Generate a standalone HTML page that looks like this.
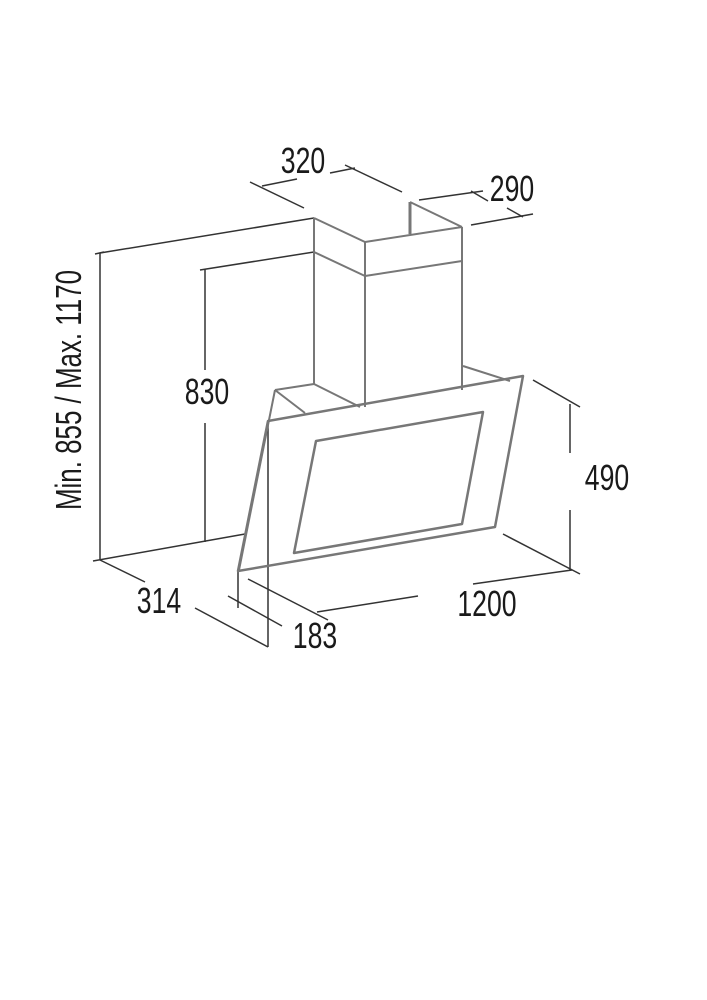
<!DOCTYPE html>
<html><head><style>
html,body{margin:0;padding:0;background:#fff;}
svg{display:block;}
text{font-family:"Liberation Sans",sans-serif;fill:#1a1a1a;}
</style></head><body>
<svg width="707" height="1000" viewBox="0 0 707 1000" xmlns="http://www.w3.org/2000/svg">
<g stroke="#333" stroke-width="1.5" fill="none">
<line x1="100" y1="253" x2="314" y2="218"/>
<line x1="95" y1="254" x2="104" y2="252"/>
<line x1="100" y1="253" x2="100" y2="560"/>
<line x1="200" y1="270" x2="314" y2="252"/>
<line x1="205" y1="269" x2="205" y2="370"/>
<line x1="205" y1="423" x2="205" y2="542"/>
<line x1="93" y1="561" x2="245" y2="534"/>
<line x1="100" y1="560" x2="145" y2="582"/>
<line x1="195" y1="608" x2="268" y2="647"/>
<line x1="228" y1="596" x2="282" y2="626"/>
<line x1="248" y1="579" x2="328" y2="620"/>
<line x1="238" y1="571" x2="238" y2="608"/>
<line x1="268" y1="421" x2="268" y2="647"/>
<line x1="317" y1="612" x2="418" y2="596"/>
<line x1="473" y1="584" x2="572" y2="570"/>
<line x1="503" y1="534" x2="580" y2="574"/>
<line x1="533" y1="380" x2="580" y2="407"/>
<line x1="570" y1="404" x2="570" y2="453"/>
<line x1="570" y1="510" x2="570" y2="570"/>
<line x1="250" y1="182" x2="304" y2="208"/>
<line x1="262" y1="186" x2="297" y2="179"/>
<line x1="330" y1="173" x2="355" y2="168"/>
<line x1="345" y1="165" x2="402" y2="192"/>
<line x1="419" y1="200" x2="483" y2="191"/>
<line x1="471" y1="191" x2="488" y2="201"/>
<line x1="471" y1="225" x2="533" y2="214"/>
<line x1="507" y1="208" x2="523" y2="217"/>
</g>
<g stroke="#777" stroke-width="2" fill="none" stroke-linejoin="round">
<line x1="314" y1="218" x2="365" y2="242"/>
<line x1="365" y1="242" x2="462" y2="227"/>
<line x1="410" y1="202" x2="462" y2="227"/>
<line x1="410" y1="202" x2="410" y2="234" stroke-width="3"/>
<line x1="314" y1="218" x2="314" y2="384"/>
<line x1="365" y1="242" x2="365" y2="407"/>
<line x1="462" y1="227" x2="462" y2="390"/>
<polyline points="314,252 365,276 462,261"/>
<line x1="275" y1="390" x2="314" y2="384"/>
<line x1="275" y1="390" x2="305" y2="413"/>
<line x1="314" y1="384" x2="360" y2="407"/>
<line x1="463" y1="366" x2="510" y2="381"/>
<line x1="275" y1="390" x2="239" y2="570"/>
<polygon points="268,421 523,376 495,527 238,571" stroke-width="2.5"/>
<polygon points="316,441 483,412 462,524 294,553" stroke-width="2.5"/>
</g>
<g font-size="36">
<text transform="translate(303,173) scale(0.74,1)" text-anchor="middle">320</text>
<text transform="translate(512,201) scale(0.74,1)" text-anchor="middle">290</text>
<text transform="translate(207,404) scale(0.74,1)" text-anchor="middle">830</text>
<text transform="translate(607,490) scale(0.74,1)" text-anchor="middle">490</text>
<text transform="translate(159,613) scale(0.74,1)" text-anchor="middle">314</text>
<text transform="translate(315,648) scale(0.74,1)" text-anchor="middle">183</text>
<text transform="translate(487,616) scale(0.74,1)" text-anchor="middle">1200</text>
<text transform="translate(81,390) rotate(-90) scale(0.72,1)" text-anchor="middle">Min. 855 / Max. 1170</text>
</g>
</svg>
</body></html>
